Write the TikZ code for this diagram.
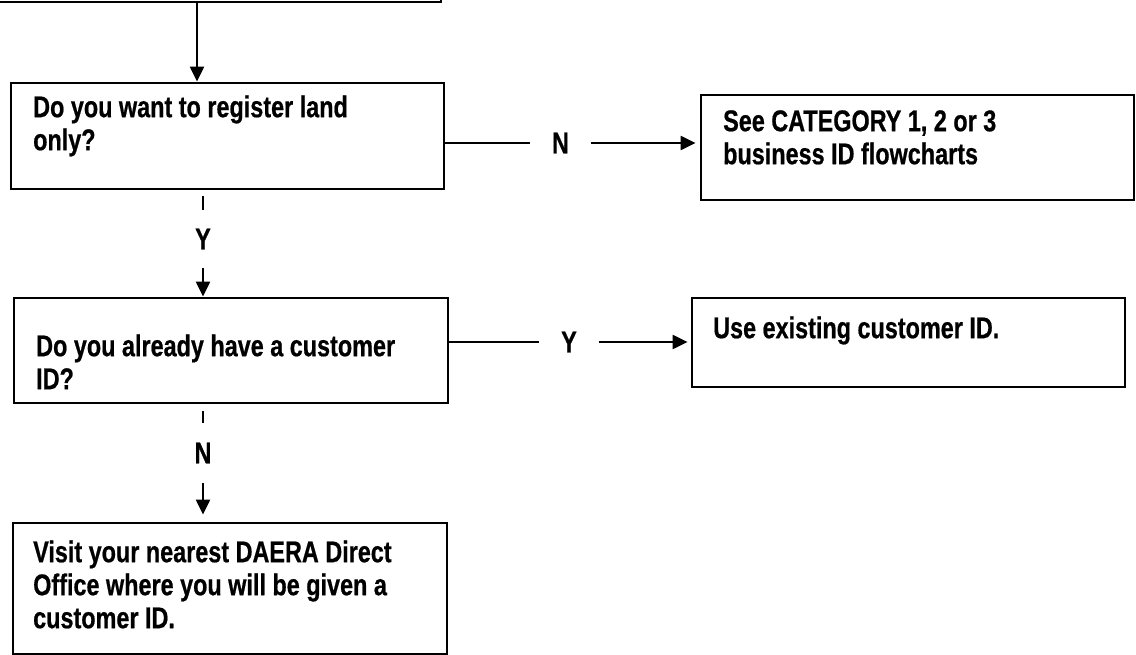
\documentclass[tikz,border=0pt]{standalone}
\usepackage{fontspec}
\newfontfamily\diafont{Liberation Sans}[FakeStretch=0.78,FakeBold=0.6]
\usetikzlibrary{arrows.meta}
\tikzset{
  boxnode/.style={draw, line width=2.8pt, inner sep=0pt},
  txt/.style={anchor=north west, inner sep=0pt, align=left,
    font=\diafont\bfseries\fontsize{30}{33}\selectfont},
  lbl/.style={inner sep=0pt, font=\diafont\bfseries\fontsize{30}{33}\selectfont},
  conn/.style={line width=2.2pt},
  arr/.style={line width=2.2pt, -{Triangle[length=15pt,width=14pt]}}
}
\begin{document}
\begin{tikzpicture}[x=1pt,y=-1pt]
\useasboundingbox[fill=white] (0,0) rectangle (1136,655);
% boxes
\node[boxnode, minimum width=451pt, minimum height=102pt] (top) at (215.5,-49) {};
\node[boxnode, minimum width=433pt, minimum height=106pt] (b1) at (227.5,136) {};
\node[boxnode, minimum width=433pt, minimum height=105pt] (b2) at (917.5,147.5) {};
\node[boxnode, minimum width=434pt, minimum height=105pt] (b3) at (231,350.5) {};
\node[boxnode, minimum width=433pt, minimum height=89pt] (b4) at (908.5,342.5) {};
\node[boxnode, minimum width=434pt, minimum height=131pt] (b5) at (230,588.5) {};
% texts
\node[txt] (t1) at (33,93.9) {\strut Do you want to register land\\only?};
\node[txt] (t2) at (723,107.9) {\strut See CATEGORY 1, 2 or 3\\business ID flowcharts};
\node[txt] (t3) at (36,332.9) {\strut Do you already have a customer\\ID?};
\node[txt] (t4) at (713,314.9) {\strut Use existing customer ID.};
\node[txt] (t5) at (33,538.9) {\strut Visit your nearest DAERA Direct\\Office where you will be given a\\customer ID.};
% labels
\node[lbl, minimum width=61pt] (lN1) at (560.5,143) {N};
\node[lbl, minimum height=58pt] (lY1) at (203,239) {Y};
\node[lbl, minimum width=60pt] (lY2) at (569,342) {Y};
\node[lbl, minimum height=60pt] (lN2) at (203,453) {N};
% connectors
\coordinate (c1) at (197,0);
\draw[arr] (top.south -| c1) -- (b1.north -| c1);
\draw[conn] (b1.east |- lN1) -- (lN1.west);
\draw[arr, shorten >=4pt] (lN1.east) -- (b2.west |- lN1);
\draw[conn, shorten <=6pt] (b1.south -| lY1) -- (lY1.north);
\draw[arr] (lY1.south) -- (b3.north -| lY1);
\draw[conn] (b3.east |- lY2) -- (lY2.west);
\draw[arr, shorten >=3pt] (lY2.east) -- (b4.west |- lY2);
\draw[conn, shorten <=7pt] (b3.south -| lN2) -- (lN2.north);
\draw[arr, shorten >=7pt] (lN2.south) -- (b5.north -| lN2);
\end{tikzpicture}
\end{document}
